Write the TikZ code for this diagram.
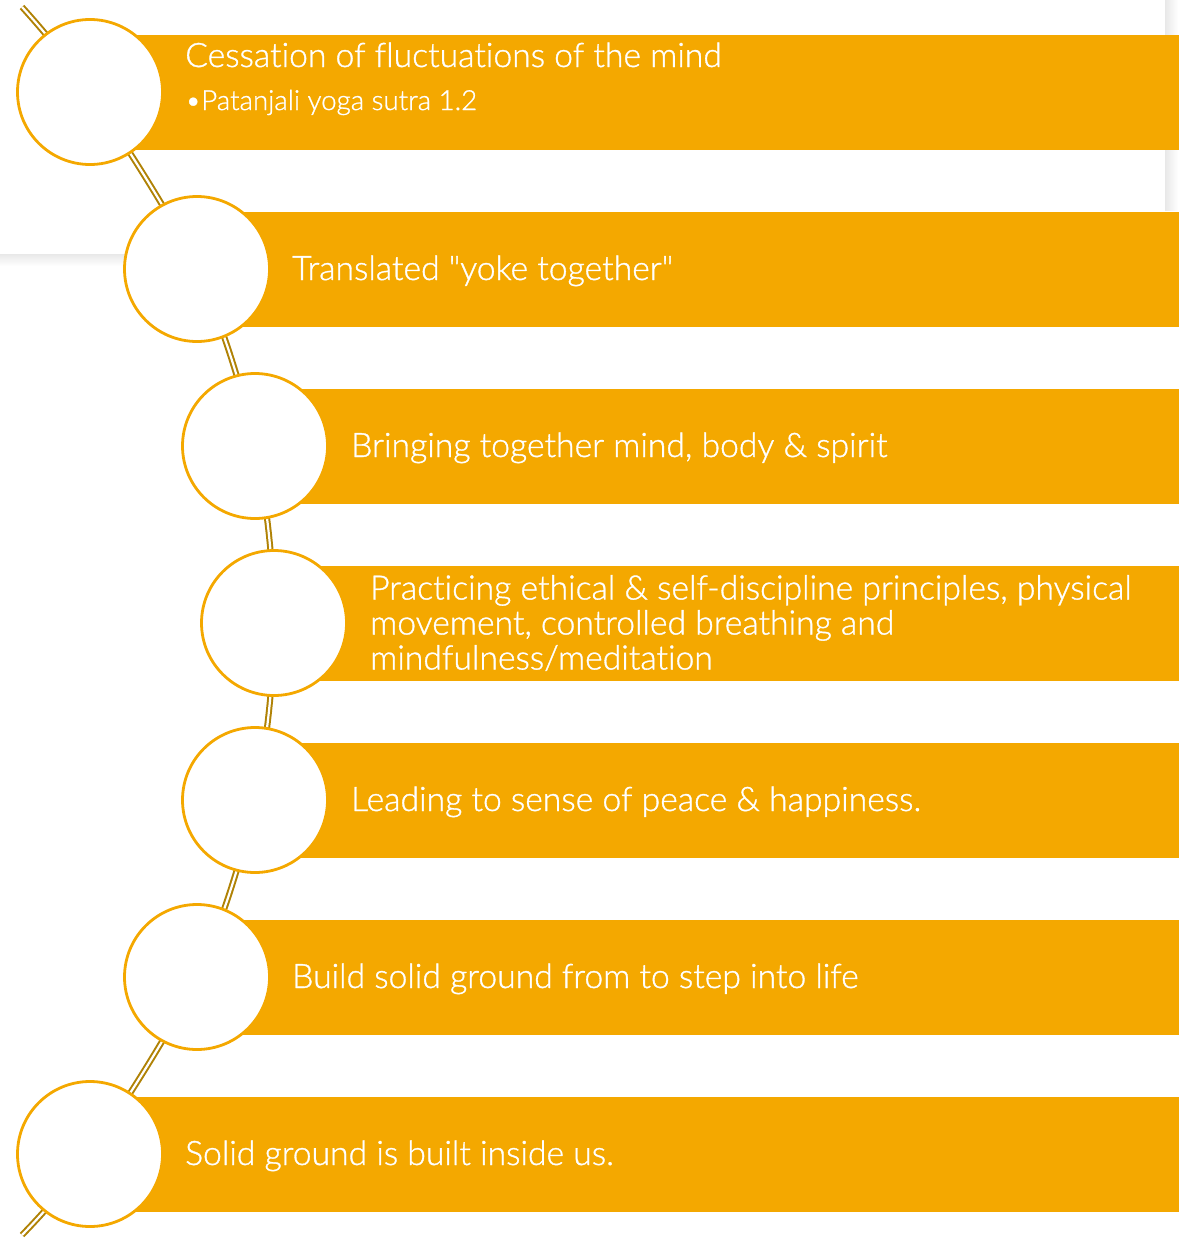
\documentclass[tikz,border=0pt]{standalone}
\usepackage{fontspec}
\setmainfont{Lato Light}[Ligatures=NoCommon, FakeBold=1]
\usepackage{tikz}
\usetikzlibrary{positioning}
\usepackage{xcolor}
\definecolor{stageorange}{HTML}{F4A800}
\definecolor{spinegold}{HTML}{B08205}
\tikzset{%
	stage circle/.style={
		circle,
		draw=stageorange,
		line width=2.8pt,
		fill=white,
		minimum size=145pt,
		inner sep=0pt
	},
	stage bar/.style={
		fill=stageorange
	},
	stage text/.style={
		text=white,
		font=\fontsize{33.7}{35}\selectfont,
		anchor=base west,
		inner sep=0pt,
		align=left
	},
	spine/.style={
		draw=spinegold,
		line width=2pt,
		double=white,
		double distance=2.2pt
	},
}

\begin{document}
\begin{tikzpicture}[x=1pt,y=-1pt]
			\useasboundingbox (0,0) rectangle (1186,1239);
			
			% Panel shadow behind the top stage
			\shade[left color=black!9, right color=white] (1165,0) rectangle (1178,210);
			\shade[top color=black!9, bottom color=white] (0,254) rectangle (200,266);
			
			% Circles of the stages
			\coordinate (top) at (22,7);
			\coordinate (bot) at (22,1235);
			\coordinate (p1) at (90,92);
			\coordinate (p2) at (197,269);
			\coordinate (p3) at (255,446);
			\coordinate (p4) at (274,623);
			\coordinate (p5) at (255,800);
			\coordinate (p6) at (197,977);
			\coordinate (p7) at (90,1154);
			
			% Draw the spine through the stages
			\draw[spine] plot[smooth, tension=0.55] coordinates {(top) (p1) (p2) (p3) (p4) (p5) (p6) (p7) (bot)};
			
			% Draw bars
			\fill[stage bar] (90,35) rectangle (1179,150);
			\fill[stage bar] (197,212) rectangle (1179,327);
			\fill[stage bar] (255,389) rectangle (1179,504);
			\fill[stage bar] (274,566) rectangle (1179,681);
			\fill[stage bar] (255,743) rectangle (1179,858);
			\fill[stage bar] (197,920) rectangle (1179,1035);
			\fill[stage bar] (90,1097) rectangle (1179,1212);
			
			% Draw circles on top
			\node[stage circle] (c1) at (p1) {};
			\node[stage circle] (c2) at (p2) {};
			\node[stage circle] (c3) at (p3) {};
			\node[stage circle] (c4) at (p4) {};
			\node[stage circle] (c5) at (p5) {};
			\node[stage circle] (c6) at (p6) {};
			\node[stage circle] (c7) at (p7) {};
			
			% Texts of the stages
			\node[stage text] (t1) at (185,67) {Cessation of fluctuations of the mind};
			\node[stage text, font=\fontsize{27.7}{28}\selectfont] (t1b) at (185,110) {•Patanjali yoga sutra 1.2};
			\node[stage text] (t2) at (292,280) {Translated \textquotedbl yoke together\textquotedbl};
			\node[stage text] (t3) at (351,457) {Bringing together mind, body \& spirit};
			\node[stage text, anchor=west] (t4) at (370,623) {Practicing ethical \& self-discipline principles, physical\\movement, controlled breathing and\\mindfulness/meditation};
			\node[stage text] (t5) at (351,811) {Leading to sense of peace \& happiness.};
			\node[stage text] (t6) at (292,988) {Build solid ground from to step into life};
			\node[stage text] (t7) at (185,1165) {Solid ground is built inside us.};
			
		\end{tikzpicture}
\end{document}
